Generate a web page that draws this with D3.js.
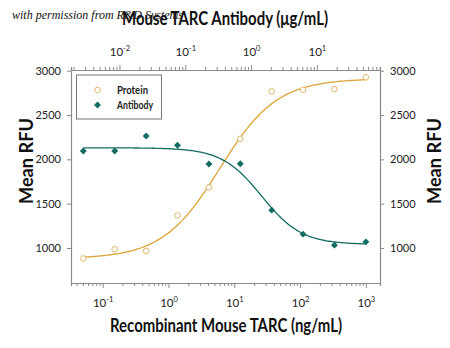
<!DOCTYPE html>
<html>
<head>
<meta charset="utf-8">
<script src="https://cdn.jsdelivr.net/npm/d3@7"></script>
<style>
  html, body { margin: 0; padding: 0; background: #fff; }
  svg { display: block; }
  .sans { font-family: Lato, "Open Sans", sans-serif; }
</style>
</head>
<body>
<svg id="chart" width="450" height="348"></svg>
<script>
// Recombinant protein concentration (ng/mL) and mean RFU
const proteinConc = [0.0508, 0.152, 0.457, 1.37, 4.12, 12.3, 37.0, 111, 333, 1000];
const proteinRFU  = [882, 987, 968, 1367, 1684, 2232, 2767, 2785, 2793, 2925];

// Neutralizing antibody concentration (µg/mL) and mean RFU
const antibodyConc = [0.00282, 0.00847, 0.0254, 0.0762, 0.229, 0.686, 2.06, 6.17, 18.5, 55.6];
const antibodyRFU  = [2094, 2094, 2263, 2158, 1947, 1950, 1427, 1156, 1032, 1069];

// Four-parameter logistic fits: [low-dose plateau, high-dose plateau, EC50, Hill slope]
const proteinFit  = [880, 2910, 6.0, 1.0];
const antibodyFit = [2130, 1040, 1.45, 1.43];

const yTicks = [1000, 1500, 2000, 2500, 3000];
const bottomMajor = [0.1, 1, 10, 100, 1000];
const topMajor = [0.01, 0.1, 1, 10];

const svg = d3.select("#chart");
const plotL = 71, plotR = 380, plotT = 70, plotB = 283;

const xBottom = d3.scaleLog().domain([0.033, 1640]).range([plotL, plotR]);
const xTop = d3.scaleLog().domain([0.033 / 18, 1640 / 18]).range([plotL, plotR]);
const y = d3.scaleLinear().domain([605, 3000]).range([plotB, 70.7]);

const axisColor = "#8a8a8a";
const orange = "#dba435";
const orangeMarker = "#e2b66a";
const teal = "#136c62";

function minorTicks(scale) {
  const [a, b] = scale.domain();
  const out = [];
  for (let e = Math.floor(Math.log10(a)); e <= Math.ceil(Math.log10(b)); e++) {
    for (let m = 2; m <= 9; m++) {
      const v = m * Math.pow(10, e);
      if (v >= a && v <= b) out.push(v);
    }
  }
  return out;
}

function styleAxis(g) {
  g.select(".domain").attr("stroke", axisColor).attr("stroke-width", 1.2);
  g.selectAll(".tick line").attr("stroke", axisColor).attr("stroke-width", 1);
}

function powLabels(g, dy) {
  g.selectAll(".tick text").each(function(d) {
    const t = d3.select(this).text(null)
      .attr("class", "sans").attr("font-size", 11.5).attr("fill", "#222")
      .attr("dy", null).attr("y", dy).attr("text-anchor", "middle");
    t.append("tspan").text("10");
    t.append("tspan").attr("font-size", 7.5).attr("dy", -5).text(Math.round(Math.log10(d)));
  });
}

// Bottom axis (ng/mL)
const gb = svg.append("g").attr("transform", `translate(0,${plotB})`);
gb.append("g").call(d3.axisBottom(xBottom).tickValues(minorTicks(xBottom)).tickSize(3).tickFormat(""))
  .call(styleAxis);
gb.append("g").call(d3.axisBottom(xBottom).tickValues(bottomMajor).tickSize(5).tickSizeOuter(0))
  .call(styleAxis).call(g => powLabels(g, 24));

// Top axis (µg/mL)
const gt = svg.append("g").attr("transform", `translate(0,${plotT})`);
gt.append("g").call(d3.axisTop(xTop).tickValues(minorTicks(xTop)).tickSize(3).tickFormat(""))
  .call(styleAxis);
gt.append("g").call(d3.axisTop(xTop).tickValues(topMajor).tickSize(5).tickSizeOuter(0))
  .call(styleAxis).call(g => powLabels(g, -14));

// Left and right value axes
function yLabels(g, anchor, x) {
  g.selectAll(".tick text").attr("class", "sans").attr("font-size", 11)
    .attr("fill", "#222").attr("text-anchor", anchor).attr("x", x);
}
svg.append("g").attr("transform", `translate(${plotL},0)`)
  .call(d3.axisLeft(y).tickValues(yTicks).tickSize(4).tickSizeOuter(0).tickFormat(d3.format("d")))
  .call(styleAxis).call(g => yLabels(g, "end", -10));
svg.append("g").attr("transform", `translate(${plotR},0)`)
  .call(d3.axisRight(y).tickValues(yTicks).tickSize(4).tickSizeOuter(0).tickFormat(d3.format("d")))
  .call(styleAxis).call(g => yLabels(g, "start", 10));

// Fitted curves
function logistic(p, x) {
  const [low, high, ec, h] = p;
  return high + (low - high) / (1 + Math.pow(x / ec, h));
}
function curve(scale, conc, fit) {
  const lo = Math.log10(d3.min(conc)), hi = Math.log10(d3.max(conc));
  const pts = d3.range(0, 201).map(i => Math.pow(10, lo + (hi - lo) * i / 200));
  return d3.line().x(d => scale(d)).y(d => y(logistic(fit, d)))(pts);
}
svg.append("path").attr("d", curve(xBottom, proteinConc, proteinFit))
  .attr("fill", "none").attr("stroke", orange).attr("stroke-width", 1.3);
svg.append("path").attr("d", curve(xTop, antibodyConc, antibodyFit))
  .attr("fill", "none").attr("stroke", teal).attr("stroke-width", 1.3);

// Data markers
const diamond = d3.symbol().type(d3.symbolSquare).size(24);
svg.append("g").selectAll("circle")
  .data(d3.zip(proteinConc, proteinRFU)).join("circle")
  .attr("cx", d => xBottom(d[0])).attr("cy", d => y(d[1])).attr("r", 2.8)
  .attr("fill", "#fff").attr("stroke", orangeMarker).attr("stroke-width", 1);
svg.append("g").selectAll("path")
  .data(d3.zip(antibodyConc, antibodyRFU)).join("path")
  .attr("d", diamond)
  .attr("transform", d => `translate(${xTop(d[0])},${y(d[1])}) rotate(45)`)
  .attr("fill", teal);

// Legend
const lg = svg.append("g");
lg.append("rect").attr("x", 76.5).attr("y", 75).attr("width", 85).attr("height", 44)
  .attr("fill", "#fff").attr("stroke", "#777").attr("stroke-width", 1);
lg.append("circle").attr("cx", 97.5).attr("cy", 90).attr("r", 2.8)
  .attr("fill", "#fff").attr("stroke", orangeMarker);
lg.append("path").attr("d", diamond).attr("transform", "translate(97.5,105) rotate(45)").attr("fill", teal);
lg.append("text").attr("class", "sans").attr("x", 117).attr("y", 94).attr("font-size", 11)
  .attr("font-weight", "bold").attr("fill", "#222")
  .attr("textLength", 31).attr("lengthAdjust", "spacingAndGlyphs").text("Protein");
lg.append("text").attr("class", "sans").attr("x", 117).attr("y", 109).attr("font-size", 11)
  .attr("font-weight", "bold").attr("fill", "#222")
  .attr("textLength", 36).attr("lengthAdjust", "spacingAndGlyphs").text("Antibody");

// Axis titles, set in a condensed width
function title(x, yPos, size, len, txt, rotate) {
  const t = svg.append("text").attr("class", "sans")
    .attr("text-anchor", "middle").attr("font-size", size).attr("font-weight", "bold")
    .attr("fill", "#111").attr("textLength", len).attr("lengthAdjust", "spacingAndGlyphs")
    .text(txt);
  if (rotate) t.attr("transform", `translate(${x},${yPos}) rotate(-90)`);
  else t.attr("x", x).attr("y", yPos);
  return t;
}
title(225, 25, 19, 206, "Mouse TARC Antibody (\u03bcg/mL)");
title(226, 332, 19.5, 232, "Recombinant Mouse TARC (ng/mL)");
title(33, 161, 19, 86, "Mean RFU", true);
title(441, 161, 19, 86, "Mean RFU", true);

// Credit line
svg.append("text").attr("x", 12).attr("y", 19)
  .attr("font-family", "'Liberation Serif', 'DejaVu Serif', serif")
  .attr("font-style", "italic").attr("font-size", 12).attr("fill", "#111")
  .text("with permission from R&D Systems");
</script>
</body>
</html>
